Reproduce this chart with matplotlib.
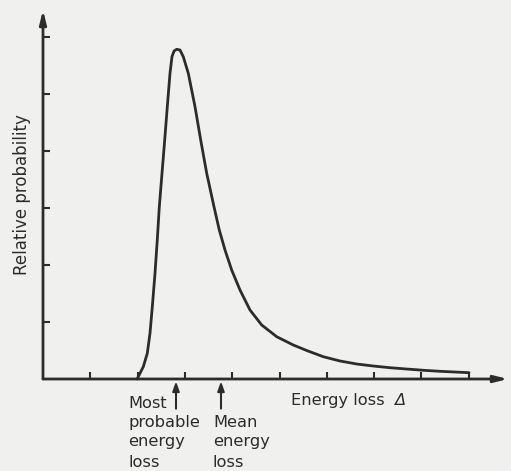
import matplotlib
matplotlib.use('Agg')
import matplotlib.pyplot as plt

# Landau-type straggling curve, in tick units (9 ticks on x, 6 on y)
energy_loss = [1.990, 2.121, 2.205, 2.262, 2.311, 2.368, 2.416, 2.459, 2.516, 2.573,
               2.628, 2.685, 2.727, 2.770, 2.827, 2.896, 2.966, 3.072, 3.214, 3.334,
               3.461, 3.615, 3.727, 3.848, 3.989, 4.165, 4.376, 4.624, 4.941, 5.292,
               5.575, 5.926, 6.279, 6.632, 6.983, 7.336, 7.689, 8.040, 8.393, 9.006]
probability = [0.000, 0.216, 0.451, 0.802, 1.268, 1.854, 2.439, 3.023, 3.609, 4.193,
               4.777, 5.363, 5.654, 5.754, 5.784, 5.772, 5.654, 5.363, 4.777, 4.193,
               3.609, 3.023, 2.614, 2.263, 1.912, 1.561, 1.211, 0.947, 0.742, 0.596,
               0.500, 0.391, 0.316, 0.263, 0.228, 0.198, 0.175, 0.153, 0.135, 0.111]

most_probable = 2.812
mean_loss = 3.763
x_ticks = [1, 2, 3, 4, 5, 6, 7, 8, 9]
y_ticks = [1, 2, 3, 4, 5, 6]

ink = '#2c2c2c'
paper = '#f0f0ee'
plt.rcParams['font.family'] = ['DejaVu Sans']

fig = plt.figure(figsize=(5.11, 4.71), dpi=100, facecolor=paper)
W, H = 511, 471
x0, x1, y0, y1 = 43, 508, 379, 10
ax = fig.add_axes([x0 / W, 1 - y0 / H, (x1 - x0) / W, (y0 - y1) / H])
ax.set_facecolor(paper)
ax.set_xlim(0, (x1 - x0) / 47.3)
ax.set_ylim(0, (y0 - y1) / 57.0)
for s in ax.spines.values():
    s.set_visible(False)

# axes with arrow heads
for tip in [(1, 0), (0, 1)]:
    ax.annotate('', xy=tip, xytext=(0, 0), xycoords='axes fraction',
                arrowprops=dict(arrowstyle='-|>,head_length=0.8,head_width=0.2',
                                color=ink, lw=2.0, mutation_scale=10,
                                shrinkA=0, shrinkB=0))

ax.set_xticks(x_ticks)
ax.set_yticks(y_ticks)
ax.set_xticklabels([])
ax.set_yticklabels([])
ax.tick_params(direction='in', length=5, width=1.5, color=ink)

ax.plot(energy_loss, probability, color=ink, lw=2.0, solid_joinstyle='round',
        solid_capstyle='round', clip_on=False)
# small end mark on the tail
ax.plot([energy_loss[-1], energy_loss[-1]], [0, probability[-1]], color=ink, lw=1.5)

# arrows marking most probable and mean loss
for xv in (most_probable, mean_loss):
    ax.annotate('', xy=(xv, -0.04), xytext=(xv, -0.52), xycoords='data',
                arrowprops=dict(arrowstyle='-|>,head_length=0.7,head_width=0.25',
                                color=ink, lw=1.5, mutation_scale=8,
                                shrinkA=0, shrinkB=0),
                annotation_clip=False)

ax.set_ylabel('Relative probability', fontsize=12, color=ink, labelpad=5)

fs = 11.7
def label(px, py, s, **kw):
    fig.text(px / W, 1 - py / H, s, fontsize=fs, color=ink, va='baseline', **kw)

label(128, 408, 'Most')
label(128, 427, 'probable')
label(128, 446, 'energy')
label(128, 467, 'loss')
label(213, 427, 'Mean')
label(213, 446, 'energy')
label(213, 467, 'loss')
label(291, 405, 'Energy loss')
label(394, 405, '\u0394', style='italic')

fig.savefig('out.png', dpi=100, facecolor=paper)
